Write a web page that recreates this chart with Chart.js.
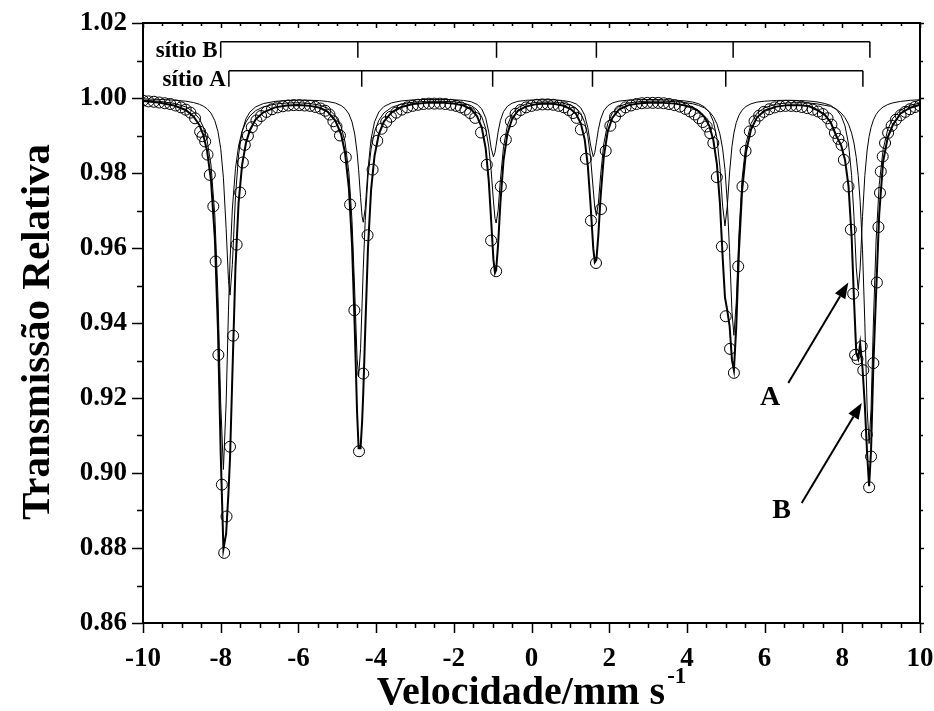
<!DOCTYPE html>
<html>
<head>
<meta charset="utf-8">
<script src="https://cdn.jsdelivr.net/npm/chart.js@4.4.0/dist/chart.umd.min.js"></script>
<style>
  body { margin: 0; background: #fff; }
  #wrap { width: 934px; height: 711px; }
</style>
</head>
<body>
<div id="wrap"><canvas id="spectrum" width="934" height="711"></canvas></div>
<script>
// Mossbauer spectrum

// measured points (open circles)
const vel = [
  -10.00, -9.86, -9.72, -9.58, -9.44, -9.30, -9.16, -9.02, -8.90, -8.78, -8.66,
  -8.53, -8.47, -8.40, -8.34, -8.28, -8.19, -8.13, -8.06, -7.97, -7.91, -7.85, -7.76, -7.68, -7.59, -7.50, -7.43, -7.38,
  -7.30, -7.20, -7.08, -6.96, -6.82, -6.68, -6.54, -6.40, -6.26, -6.12, -5.98, -5.84, -5.70, -5.56, -5.43, -5.31, -5.20,
  -5.10, -5.02, -4.93, -4.78, -4.67, -4.56, -4.44, -4.33, -4.22, -4.09, -3.97,
  -3.86, -3.74, -3.62, -3.48, -3.34, -3.20, -3.06, -2.92, -2.78, -2.64, -2.50, -2.36, -2.22, -2.08, -1.94, -1.82, -1.70, -1.58,
  -1.45, -1.30, -1.15, -1.04, -0.91, -0.79, -0.66, -0.53,
  -0.41, -0.28, -0.14, 0.00, 0.14, 0.28, 0.42, 0.56, 0.70, 0.84, 0.96, 1.07,
  1.16, 1.27, 1.40, 1.53, 1.66, 1.79, 1.91, 2.03,
  2.15, 2.28, 2.42, 2.56, 2.70, 2.84, 2.98, 3.12, 3.26, 3.40, 3.54, 3.68, 3.82, 3.96, 4.08, 4.20, 4.31, 4.41,
  4.51, 4.60, 4.68, 4.77, 4.90, 5.00, 5.11, 5.21, 5.32, 5.43, 5.51, 5.62,
  5.74, 5.86, 5.98, 6.12, 6.26, 6.40, 6.54, 6.68, 6.82, 6.96, 7.10, 7.24, 7.38, 7.50, 7.62, 7.72,
  7.81, 7.90, 7.98, 8.04, 8.16, 8.22, 8.28, 8.33, 8.39, 8.50, 8.54, 8.63, 8.69, 8.74, 8.80, 8.89, 8.93, 8.97, 8.99, 9.04, 9.10,
  9.18, 9.27, 9.38, 9.50, 9.62, 9.74, 9.87, 10.00
];
const trans = [
  0.9993, 0.9991, 0.9990, 0.9988, 0.9986, 0.9984, 0.9980, 0.9975, 0.9969, 0.9961, 0.9946,
  0.9910, 0.9898, 0.9884, 0.9849, 0.9795, 0.9711, 0.9564, 0.9315, 0.8969, 0.8787, 0.8884, 0.9070, 0.9366, 0.9609, 0.9748, 0.9828, 0.9875,
  0.9899, 0.9922, 0.9940, 0.9952, 0.9963, 0.9970, 0.9975, 0.9978, 0.9980, 0.9981, 0.9981, 0.9980, 0.9979, 0.9976, 0.9972, 0.9966, 0.9956,
  0.9938, 0.9924, 0.9900, 0.9842, 0.9716, 0.9434, 0.9058, 0.9265, 0.9634, 0.9809, 0.9886,
  0.9918, 0.9936, 0.9950, 0.9961, 0.9969, 0.9975, 0.9979, 0.9982, 0.9984, 0.9985, 0.9985, 0.9985, 0.9984, 0.9982, 0.9979, 0.9975, 0.9969, 0.9960,
  0.9947, 0.9908, 0.9822, 0.9620, 0.9538, 0.9764, 0.9889, 0.9938,
  0.9958, 0.9968, 0.9975, 0.9979, 0.9982, 0.9983, 0.9983, 0.9982, 0.9979, 0.9975, 0.9968, 0.9960,
  0.9947, 0.9916, 0.9838, 0.9673, 0.9560, 0.9704, 0.9859, 0.9926,
  0.9950, 0.9965, 0.9975, 0.9980, 0.9984, 0.9986, 0.9987, 0.9987, 0.9987, 0.9986, 0.9984, 0.9981, 0.9977, 0.9971, 0.9964, 0.9956, 0.9946, 0.9936,
  0.9924, 0.9906, 0.9880, 0.9789, 0.9604, 0.9418, 0.9331, 0.9267, 0.9551, 0.9764, 0.9859, 0.9911,
  0.9938, 0.9953, 0.9963, 0.9970, 0.9975, 0.9978, 0.9979, 0.9979, 0.9978, 0.9976, 0.9973, 0.9969, 0.9964, 0.9957, 0.9946, 0.9929,
  0.9907, 0.9891, 0.9875, 0.9835, 0.9764, 0.9649, 0.9478, 0.9315, 0.9304, 0.9338, 0.9274, 0.9102, 0.8962, 0.9044, 0.9293, 0.9508, 0.9656, 0.9747, 0.9804, 0.9844, 0.9880,
  0.9907, 0.9926, 0.9942, 0.9954, 0.9963, 0.9970, 0.9976, 0.9980
];

// fitted curves: total (thick) and the two sextets
const fitVel = [
  -10.00, -9.60, -9.20, -8.90, -8.70, -8.55, -8.45, -8.35, -8.25, -8.15, -8.07, -8.00, -7.93, -7.86, -7.80, -7.76,
  -7.70, -7.62, -7.54, -7.45, -7.35, -7.25, -7.10, -6.90, -6.60, -6.30, -6.00, -5.70, -5.45, -5.25,
  -5.05, -4.90, -4.80, -4.70, -4.62, -4.55, -4.49, -4.45, -4.40, -4.36, -4.33, -4.28, -4.21, -4.13, -4.04, -3.93,
  -3.80, -3.60, -3.35, -3.05, -2.70, -2.35, -2.00, -1.75, -1.55,
  -1.40, -1.28, -1.18, -1.10, -1.04, -0.98, -0.94, -0.91, -0.86, -0.80, -0.72, -0.62, -0.50, -0.35, -0.15,
  0.10, 0.35, 0.60, 0.80, 1.00,
  1.15, 1.27, 1.37, 1.45, 1.52, 1.59, 1.63, 1.67, 1.72, 1.78, 1.86, 1.96, 2.08, 2.25,
  2.50, 2.80, 3.10, 3.40, 3.70, 3.95, 4.15, 4.30,
  4.45, 4.58, 4.68, 4.77, 4.85, 4.92, 4.98, 5.04, 5.10, 5.16, 5.21, 5.27, 5.34, 5.42, 5.52, 5.65, 5.80,
  6.00, 6.30, 6.60, 6.90, 7.15, 7.35, 7.55,
  7.70, 7.85, 7.97, 8.07, 8.16, 8.24, 8.30, 8.36, 8.41, 8.46, 8.52, 8.58, 8.64, 8.69, 8.74, 8.80, 8.87, 8.95, 9.05, 9.17, 9.30,
  9.50, 9.75, 10.00
];
const fitTotal = [
  0.9992, 0.9988, 0.9980, 0.9968, 0.9951, 0.9928, 0.9902, 0.9859, 0.9781, 0.9625, 0.9381, 0.9053, 0.8797, 0.8838, 0.8948, 0.9040,
  0.9260, 0.9548, 0.9720, 0.9821, 0.9880, 0.9914, 0.9943, 0.9962, 0.9975, 0.9980, 0.9981, 0.9979, 0.9974, 0.9964,
  0.9940, 0.9903, 0.9854, 0.9759, 0.9610, 0.9389, 0.9162, 0.9066, 0.9066, 0.9137, 0.9215, 0.9379, 0.9598, 0.9754, 0.9846, 0.9903,
  0.9937, 0.9962, 0.9976, 0.9984, 0.9987, 0.9988, 0.9985, 0.9980, 0.9970,
  0.9951, 0.9921, 0.9866, 0.9779, 0.9676, 0.9569, 0.9534, 0.9541, 0.9609, 0.9722, 0.9834, 0.9905, 0.9944, 0.9966, 0.9977,
  0.9983, 0.9985, 0.9984, 0.9980, 0.9971,
  0.9957, 0.9932, 0.9889, 0.9819, 0.9716, 0.9599, 0.9562, 0.9568, 0.9633, 0.9739, 0.9843, 0.9910, 0.9947, 0.9969,
  0.9981, 0.9986, 0.9988, 0.9987, 0.9985, 0.9980, 0.9974, 0.9965,
  0.9950, 0.9925, 0.9888, 0.9826, 0.9720, 0.9576, 0.9468, 0.9433, 0.9391, 0.9301, 0.9274, 0.9389, 0.9592, 0.9752, 0.9855, 0.9916, 0.9948,
  0.9966, 0.9977, 0.9981, 0.9981, 0.9978, 0.9968, 0.9955,
  0.9935, 0.9898, 0.9874, 0.9835, 0.9765, 0.9630, 0.9465, 0.9320, 0.9305, 0.9345, 0.9280, 0.9180, 0.9050, 0.8965, 0.9060, 0.9290, 0.9480, 0.9690, 0.9830, 0.9895, 0.9928,
  0.9959, 0.9974, 0.9982
];
const fitA = [
  0.99976, 0.99963, 0.99943, 0.99915, 0.99879, 0.99833, 0.99785, 0.99713, 0.99597, 0.99393, 0.99103, 0.98660, 0.97873, 0.96517, 0.95137, 0.94743,
  0.95557, 0.97368, 0.98481, 0.99102, 0.99444, 0.99624, 0.99764, 0.99852, 0.99910, 0.99934, 0.99942, 0.99940, 0.99929, 0.99907,
  0.99866, 0.99799, 0.99718, 0.99574, 0.99363, 0.99037, 0.98555, 0.98087, 0.97347, 0.96832, 0.96687, 0.97060, 0.98087, 0.98901, 0.99363, 0.99627,
  0.99772, 0.99872, 0.99922, 0.99950, 0.99963, 0.99962, 0.99954, 0.99935, 0.99899,
  0.99829, 0.99707, 0.99474, 0.99091, 0.98674, 0.98434, 0.98550, 0.98744, 0.99091, 0.99400, 0.99636, 0.99780, 0.99862, 0.99911, 0.99937,
  0.99951, 0.99954, 0.99949, 0.99933, 0.99899,
  0.99842, 0.99735, 0.99538, 0.99209, 0.98744, 0.98434, 0.98550, 0.98815, 0.99152, 0.99438, 0.99656, 0.99790, 0.99867, 0.99917,
  0.99945, 0.99957, 0.99960, 0.99954, 0.99942, 0.99922, 0.99891, 0.99847,
  0.99765, 0.99616, 0.99378, 0.98941, 0.98161, 0.97114, 0.96587, 0.97114, 0.98029, 0.98705, 0.99068, 0.99344, 0.99540, 0.99675, 0.99773, 0.99845, 0.99890,
  0.99915, 0.99935, 0.99939, 0.99933, 0.99918, 0.99896, 0.99853,
  0.99802, 0.99693, 0.99524, 0.99254, 0.98774, 0.97933, 0.96839, 0.95469, 0.94893, 0.95469, 0.96839, 0.97933, 0.98614, 0.98973, 0.99215, 0.99411, 0.99561, 0.99672, 0.99760, 0.99826, 0.99870,
  0.99909, 0.99938, 0.99954
];
const fitB = [
  0.99942, 0.99914, 0.99857, 0.99763, 0.99632, 0.99447, 0.99234, 0.98874, 0.98212, 0.96856, 0.94707, 0.91866, 0.90094, 0.91866, 0.94341, 0.95658,
  0.97040, 0.98116, 0.98718, 0.99110, 0.99360, 0.99520, 0.99662, 0.99766, 0.99838, 0.99867, 0.99872, 0.99853, 0.99808, 0.99729,
  0.99529, 0.99233, 0.98826, 0.98012, 0.96732, 0.94852, 0.93061, 0.92573, 0.93313, 0.94534, 0.95459, 0.96732, 0.97893, 0.98641, 0.99100, 0.99405,
  0.99599, 0.99751, 0.99839, 0.99887, 0.99911, 0.99914, 0.99899, 0.99863, 0.99796,
  0.99683, 0.99500, 0.99187, 0.98699, 0.98082, 0.97257, 0.96791, 0.96666, 0.96996, 0.97821, 0.98699, 0.99269, 0.99576, 0.99745, 0.99835,
  0.99882, 0.99895, 0.99888, 0.99865, 0.99812,
  0.99729, 0.99586, 0.99347, 0.98984, 0.98417, 0.97552, 0.97072, 0.96867, 0.97177, 0.97952, 0.98777, 0.99313, 0.99601, 0.99773,
  0.99867, 0.99906, 0.99918, 0.99916, 0.99903, 0.99878, 0.99846, 0.99803,
  0.99736, 0.99634, 0.99505, 0.99316, 0.99040, 0.98643, 0.98092, 0.97213, 0.95877, 0.94302, 0.93672, 0.94541, 0.96375, 0.97844, 0.98777, 0.99316, 0.99590,
  0.99742, 0.99837, 0.99870, 0.99875, 0.99865, 0.99843, 0.99805,
  0.99778, 0.99700, 0.99601, 0.99475, 0.99301, 0.99064, 0.98798, 0.98409, 0.97932, 0.97239, 0.95954, 0.94004, 0.91704, 0.90784, 0.91704, 0.94004, 0.96212, 0.97687, 0.98622, 0.99165, 0.99459,
  0.99679, 0.99805, 0.99867
];

// line positions marked by the stick diagrams at the top
const siteA = [-7.79, -4.37, -1.00, 1.57, 5.00, 8.53];
const siteB = [-8.00, -4.47, -0.90, 1.67, 5.19, 8.71];

const xTicks = [-10, -8, -6, -4, -2, 0, 2, 4, 6, 8, 10];
const yTicks = [0.86, 0.88, 0.90, 0.92, 0.94, 0.96, 0.98, 1.00, 1.02];

const FONT = '"Liberation Serif", "Times New Roman", serif';

function toPoints(xs, ys) {
    return xs.map((x, i) => ({ x: x, y: ys[i] }));
}

function arrow(ctx, x0, y0, x1, y1) {
    const ang = Math.atan2(y1 - y0, x1 - x0);
    const len = 16, half = 6;
    const bx = x1 - len * Math.cos(ang), by = y1 - len * Math.sin(ang);
    ctx.beginPath();
    ctx.moveTo(x0, y0);
    ctx.lineTo(bx, by);
    ctx.stroke();
    ctx.beginPath();
    ctx.moveTo(x1, y1);
    ctx.lineTo(bx + half * Math.sin(ang), by - half * Math.cos(ang));
    ctx.lineTo(bx - half * Math.sin(ang), by + half * Math.cos(ang));
    ctx.closePath();
    ctx.fill();
}

const decorations = {
    id: 'decorations',
    beforeDraw(chart) {
        const ctx = chart.ctx;
        ctx.save();
        ctx.fillStyle = '#fff';
        ctx.fillRect(0, 0, chart.width, chart.height);
        ctx.restore();
    },
    afterDraw(chart) {
        const ctx = chart.ctx;
        const a = chart.chartArea;
        const xs = chart.scales.x, ys = chart.scales.y;
        ctx.save();
        ctx.strokeStyle = '#000';
        ctx.fillStyle = '#000';

        // frame
        ctx.lineWidth = 2;
        ctx.strokeRect(a.left, a.top, a.right - a.left, a.bottom - a.top);

        // ticks
        ctx.lineWidth = 1.5;
        ctx.beginPath();
        for (let i = 0; i <= 40; i++) {
            const v = -10 + i * 0.5;
            const px = Math.round(xs.getPixelForValue(v)) + 0.5;
            const major = i % 4 === 0;
            ctx.moveTo(px, a.bottom); ctx.lineTo(px, a.bottom + (major ? 10 : 5));
            ctx.moveTo(px, a.top); ctx.lineTo(px, a.top + (major ? 5 : 3));
        }
        for (let i = 0; i <= 16; i++) {
            const v = 0.86 + i * 0.01;
            const py = Math.round(ys.getPixelForValue(v)) + 0.5;
            const major = i % 2 === 0;
            ctx.moveTo(a.left, py); ctx.lineTo(a.left - (major ? 11 : 6), py);
            ctx.moveTo(a.right, py); ctx.lineTo(a.right + (major ? 4 : 3), py);
        }
        ctx.stroke();

        // stick diagrams
        ctx.lineWidth = 1.5;
        ctx.font = 'bold 23px ' + FONT;
        ctx.textAlign = 'right';
        ctx.textBaseline = 'alphabetic';
        [[siteB, 1.0150, 1.01075, 'sítio B'], [siteA, 1.00728, 1.0030, 'sítio A']].forEach(s => {
            const pos = s[0];
            const y0 = ys.getPixelForValue(s[1]);
            const y1 = ys.getPixelForValue(s[2]);
            ctx.beginPath();
            ctx.moveTo(xs.getPixelForValue(pos[0]), y0);
            ctx.lineTo(xs.getPixelForValue(pos[pos.length - 1]), y0);
            pos.forEach(p => {
                const px = xs.getPixelForValue(p);
                ctx.moveTo(px, y0);
                ctx.lineTo(px, y1);
            });
            ctx.stroke();
            ctx.fillText(s[3], xs.getPixelForValue(pos[0]) - 3, y1 - 1);
        });

        // arrows and labels A / B
        ctx.lineWidth = 2;
        arrow(ctx, xs.getPixelForValue(6.61), ys.getPixelForValue(0.924),
                   xs.getPixelForValue(8.155), ys.getPixelForValue(0.9508));
        arrow(ctx, xs.getPixelForValue(6.955), ys.getPixelForValue(0.892),
                   xs.getPixelForValue(8.50), ys.getPixelForValue(0.9187));
        ctx.font = 'bold 28px ' + FONT;
        ctx.textAlign = 'center';
        ctx.textBaseline = 'middle';
        ctx.fillText('A', xs.getPixelForValue(6.14), ys.getPixelForValue(0.920));
        ctx.fillText('B', xs.getPixelForValue(6.44), ys.getPixelForValue(0.8898));

        // axis titles
        ctx.font = 'bold 41px ' + FONT;
        ctx.save();
        ctx.translate(38, (a.top + a.bottom) / 2 + 9);
        ctx.rotate(-Math.PI / 2);
        ctx.textAlign = 'center';
        ctx.textBaseline = 'middle';
        ctx.fillText('Transmissão Relativa', 0, 0);
        ctx.restore();

        const main = 'Velocidade/mm s';
        const sup = '-1';
        ctx.font = 'bold 40px ' + FONT;
        const w1 = ctx.measureText(main).width;
        ctx.font = 'bold 23px ' + FONT;
        const w2 = ctx.measureText(sup).width;
        const x0 = (a.left + a.right) / 2 - (w1 + w2 + 2) / 2;
        ctx.textAlign = 'left';
        ctx.textBaseline = 'alphabetic';
        ctx.font = 'bold 40px ' + FONT;
        ctx.fillText(main, x0, 704);
        ctx.font = 'bold 23px ' + FONT;
        ctx.fillText(sup, x0 + w1 + 2, 683);
        ctx.restore();
    }
};

new Chart(document.getElementById('spectrum'), {
    type: 'scatter',
    data: {
        datasets: [{
            type: 'line',
            label: 'ajuste total',
            data: toPoints(fitVel, fitTotal),
            borderColor: '#000',
            borderWidth: 2,
            pointRadius: 0,
            tension: 0,
            fill: false
        }, {
            type: 'line',
            label: 'sítio A',
            data: toPoints(fitVel, fitA),
            borderColor: '#000',
            borderWidth: 1,
            pointRadius: 0,
            tension: 0,
            fill: false
        }, {
            type: 'line',
            label: 'sítio B',
            data: toPoints(fitVel, fitB),
            borderColor: '#000',
            borderWidth: 1,
            pointRadius: 0,
            tension: 0,
            fill: false
        }, {
            label: 'experimental',
            data: toPoints(vel, trans),
            showLine: false,
            pointStyle: 'circle',
            pointRadius: 5.5,
            pointBorderWidth: 1,
            pointBorderColor: '#000',
            pointBackgroundColor: 'rgba(0,0,0,0)'
        }]
    },
    options: {
        responsive: false,
        animation: false,
        events: [],
        layout: { padding: { top: 23, right: 14, left: 0, bottom: 0 } },
        plugins: {
            legend: { display: false },
            tooltip: { enabled: false }
        },
        scales: {
            x: {
                type: 'linear',
                min: -10,
                max: 10,
                grid: { display: false, drawTicks: false },
                border: { display: false },
                afterBuildTicks: s => { s.ticks = xTicks.map(v => ({ value: v })); },
                afterFit: s => { s.height = 88; s.paddingLeft = 0; s.paddingRight = 0; },
                ticks: {
                    padding: 20,
                    color: '#000',
                    maxRotation: 0,
                    font: { family: FONT, size: 27, weight: 'bold' },
                    callback: v => String(v)
                }
            },
            y: {
                type: 'linear',
                min: 0.86,
                max: 1.02,
                grid: { display: false, drawTicks: false },
                border: { display: false },
                afterBuildTicks: s => { s.ticks = yTicks.map(v => ({ value: v })); },
                afterFit: s => { s.width = 143; s.paddingTop = 0; s.paddingBottom = 0; },
                ticks: {
                    padding: 16,
                    color: '#000',
                    font: { family: FONT, size: 27, weight: 'bold' },
                    callback: v => v.toFixed(2)
                }
            }
        }
    },
    plugins: [decorations]
});
</script>
</body>
</html>
